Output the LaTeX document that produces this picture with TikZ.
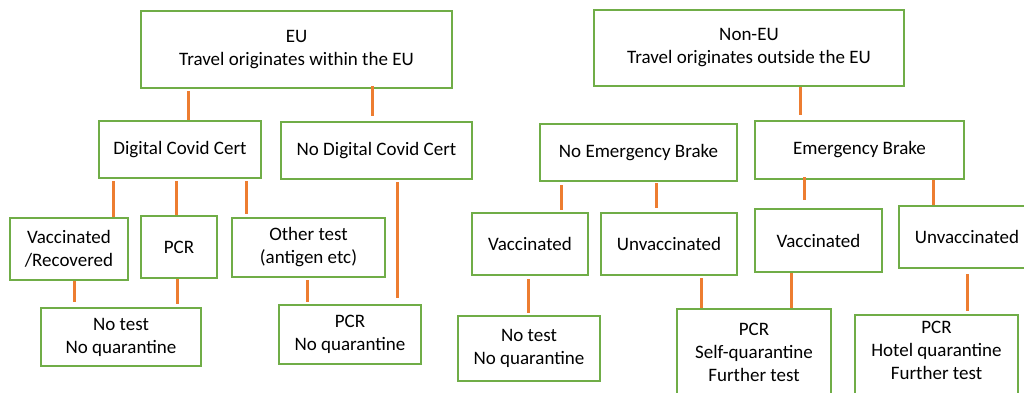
\documentclass[tikz,border=0pt]{standalone}
\usepackage{fontspec}
\setmainfont{Carlito}
\definecolor{boxgreen}{HTML}{70AD47}
\definecolor{linkorange}{HTML}{ED7D31}
\begin{document}
\begin{tikzpicture}[x=1pt,y=-1pt,
  box/.style={draw=boxgreen,line width=2pt,fill=white,inner sep=0pt,align=center,
    font=\fontsize{19}{23}\selectfont},
  conn/.style={draw=linkorange,line width=3pt}]
\useasboundingbox (0,0) rectangle (1024,393);
\clip (0,0) rectangle (1024,393);
% level 0
\node[box,minimum width=311,minimum height=77] (eu) at (296.5,49.5) {EU\\Travel originates within the EU};
\node[box,minimum width=310,minimum height=76] (noneu) at (749,48) {Non-EU\\Travel originates outside the EU};
% level 1
\node[box,minimum width=162,minimum height=57] (dcc) at (180,149.5) {Digital Covid Cert};
\node[box,minimum width=191,minimum height=57] (ndcc) at (376.5,150.5) {No Digital Covid Cert};
\node[box,minimum width=197,minimum height=57] (neb) at (638.5,152.5) {No Emergency Brake};
\node[box,minimum width=209,minimum height=58] (eb) at (859.5,150) {Emergency Brake};
% level 2
\node[box,minimum width=118,minimum height=62] (vacrec) at (69,249) {Vaccinated\\/Recovered};
\node[box,minimum width=76,minimum height=62] (pcr) at (179,247) {PCR};
\node[box,minimum width=153,minimum height=59] (other) at (308.5,247.5) {Other test\\(antigen etc)};
\node[box,minimum width=116,minimum height=62] (vac1) at (530,244) {Vaccinated};
\node[box,minimum width=136,minimum height=62] (unvac1) at (669,244) {Unvaccinated};
\node[box,minimum width=127,minimum height=63] (vac2) at (818.5,240.5) {Vaccinated};
\node[box,minimum width=136,minimum height=62] (unvac2) at (967,237) {Unvaccinated};
% level 3
\node[box,minimum width=160,minimum height=58] (notest1) at (121,337) {No test\\No quarantine};
\node[box,minimum width=142,minimum height=59] (pcrnoq) at (350,334.5) {PCR\\No quarantine};
\node[box,minimum width=142,minimum height=65] (notest2) at (529,348.5) {No test\\No quarantine};
\node[box,minimum width=154,minimum height=100,text depth=14pt] (pcrself) at (754,359) {PCR\\Self-quarantine\\Further test};
\node[box,minimum width=163,minimum height=100,text depth=30pt] (pcrhotel) at (936.5,365) {PCR\\Hotel quarantine\\Further test};
% connectors
\draw[conn,shorten <=2pt] (eu.south -| 188,0) -- (dcc.north -| 188,0);
\draw[conn,shorten <=-3pt,shorten >=5pt] (eu.south -| 372,0) -- (ndcc.north -| 372,0);
\draw[conn,shorten >=5pt] (noneu.south -| 800,0) -- (eb.north -| 800,0);
\draw[conn,shorten <=2pt] (dcc.south -| 113,0) -- (vacrec.north -| 113,0);
\draw[conn,shorten <=2pt] (dcc.south -| 176,0) -- (pcr.north -| 176,0);
\draw[conn,shorten <=2pt,shorten >=3pt] (dcc.south -| 246,0) -- (other.north -| 246,0);
\draw[conn,shorten <=2pt,shorten >=6pt] (ndcc.south -| 397,0) -- (pcrnoq.north -| 397,0);
\draw[conn,shorten >=5pt] (vacrec.south -| 74,0) -- (notest1.north -| 74,0);
\draw[conn,shorten >=3pt] (pcr.south -| 177,0) -- (notest1.north -| 177,0);
\draw[conn,shorten <=2pt,shorten >=2pt] (other.south -| 307,0) -- (pcrnoq.north -| 307,0);
\draw[conn,shorten <=3pt,shorten >=2pt] (neb.south -| 561,0) -- (vac1.north -| 561,0);
\draw[conn,shorten <=1pt,shorten >=4pt] (neb.south -| 656,0) -- (unvac1.north -| 656,0);
\draw[conn,shorten <=-3pt,shorten >=8pt] (eb.south -| 804,0) -- (vac2.north -| 804,0);
\draw[conn] (eb.south -| 933,0) -- (unvac2.north -| 933,0);
\draw[conn,shorten <=3pt,shorten >=2pt] (vac1.south -| 528,0) -- (notest2.north -| 528,0);
\draw[conn,shorten <=2pt] (unvac1.south -| 701,0) -- (pcrself.north -| 701,0);
\draw[conn] (vac2.south -| 791,0) -- (pcrself.north -| 791,0);
\draw[conn,shorten <=5pt,shorten >=3pt] (unvac2.south -| 967,0) -- (pcrhotel.north -| 967,0);
\end{tikzpicture}
\end{document}
